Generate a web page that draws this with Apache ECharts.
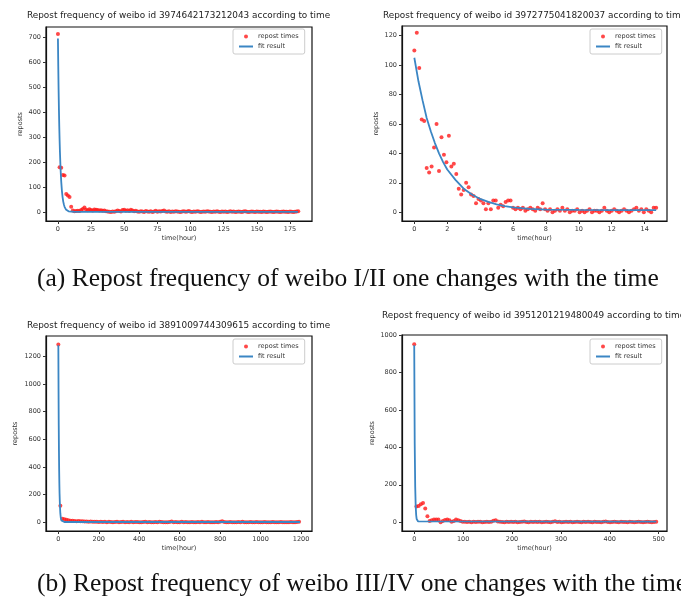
<!DOCTYPE html>
<html>
<head>
<meta charset="utf-8">
<script src="https://cdn.jsdelivr.net/npm/echarts@6/dist/echarts.min.js"></script>
<style>
  html,body{margin:0;padding:0;background:#fff;}
  #main{width:681px;height:598px;}
</style>
</head>
<body>
<div id="main"></div>
<script>
// sampling step (hours) of each weibo's repost counts
var step1 = 1.25, step2 = 0.15, step3 = 10, step4 = 4.5;

// repost counts, weibo 3974642173212043
var repost1 = [715,180,178,149,147,72,66,60,21,
  6,3,4,5,4,8,12,18,9,7,11,8,6,10,9,8,6,7,5,6,3,2,1,0,2,1,3,6,4,2,8,9,5,7,4,9,6,3,5,2,
  1,3,2,0,4,2,1,3,0,2, 5,1,3,2,4,6,2,1,3,0, 2,1,3,2,1,0,2,3,1,2, 4,1,0,2,1,3,2,0,1,2,
  1,3,2,1,0,2,1,3,1,0, 2,1,2,0,1,3,1,2,0,1, 2,1,0,2,3,1,0,1,2,1, 0,2,1,1,0,2,1,0,1,2,
  1,0,1,2,1,0,1,2,1,1, 0,2,1,0,1,2,3];
// repost counts, weibo 3972775041820037
var repost2 = [110,122,98,63,62,30,27,31,44,60,28,51,39,34,52,31,33,26,16,12,
  15,20,17,12,11,6,9,8,6,2,6,2,8,8,3,5,4,7,8,8,3,2,3,2,3,1,2,3,2,1,3,2,6,2,1,2,0,1,2,1,
  3,1,2,0,1,1,2,0,1,0,1,2,0,1,1,0,1,3,1,0,1,2,1,0,1,2,1,0,1,2,3,1,2,0,2,1,0,3,3];
// repost counts, weibo 3891009744309615
var repost3 = [1285,120,25,22,18,15,12,12,10,8,9,7,8,6,5,4,5,3,4,3,2,
  3,2,4,1,3,2,0,2,3,1, 2,4,1,2,0,3,1,2,2,1, 0,2,3,1,2,1,0,2,1,3, 2,1,0,1,2,5,1,2,0,1,
  3,1,2,0,1,2,1,0,2,1, 3,1,0,2,1,1,0,2,1,3, 8,2,1,0,2,1,1,0,2,1, 3,1,0,1,2,1,0,2,1,1,
  0,2,1,0,1,2,1,0,1,2, 1,0,1,1,2,0,1,2,3];
// repost counts, weibo 3951201219480049
var repost4 = [950,84,87,96,102,73,32,7,10,14,15,14,0,6,12,14,10,2,6,14,10,7,3,2,
  1,3,0,2,1,3,2,0,1,2, 1,3,8,10,4,2,1,0,2,1, 3,1,2,0,1,2,4,1,0,2, 1,3,1,2,0,1,2,1,0,2,
  5,1,2,0,1,3,1,2,0,1, 2,1,0,2,1,3,1,0,2,1, 1,0,2,4,1,0,1,2,1,0, 2,1,1,0,2,1,0,1,2,1,
  0,1,2,1,0,1,2];

// fitted curves
var fitTime1 = [0,0.25,0.5,0.75,1,1.25,1.5,2,2.5,3,3.5,4,4.5,5,6,7,8,9,10,12,15,20,181];
var fitVal1 = [697,585,490,412,345,290,243,171,121,85,60,42,30,21,10.5,5.5,3,2,1.5,1.1,1,1,1];
var fitTime2 = [0,0.25,0.5,0.75,1,1.25,1.5,1.75,2,2.5,3,3.5,4,4.5,5,5.5,6,7,8,10,12,14.7];
var fitVal2 = [105,89,76,64,55,47,40,34,29,22,16,12,9,7,5.3,4.1,3.3,2.3,1.8,1.5,1.4,1.4];
var fitTime3 = [0,1,2,3,4,5,6,8,10,12,15,20,30,1195];
var fitVal3 = [1280,950,700,520,380,280,210,115,62,34,14,5,2,2];
var fitTime4 = [0,1,2,3,4,5,6,8,495];
var fitVal4 = [945,420,190,85,38,17,8,4,3];

// tick labels
var xTicks1 = [0,25,50,75,100,125,150,175];
var yTicks1 = [0,100,200,300,400,500,600,700];
var xTicks2 = [0,2,4,6,8,10,12,14];
var yTicks2 = [0,20,40,60,80,100,120];
var xTicks3 = [0,200,400,600,800,1000,1200];
var yTicks3 = [0,200,400,600,800,1000,1200];
var xTicks4 = [0,100,200,300,400,500];
var yTicks4 = [0,200,400,600,800,1000];

var titles = [
  'Repost frequency of weibo id 3974642173212043 according to time',
  'Repost frequency of weibo id 3972775041820037 according to time',
  'Repost frequency of weibo id 3891009744309615 according to time',
  'Repost frequency of weibo id 3951201219480049 according to time'
];
var captions = [
  '(a) Repost frequency of weibo I/II one changes with the time',
  '(b) Repost frequency of weibo III/IV one changes with the time'
];

function pairs(values, step)
{
  var out = [];
  for (var i = 0; i < values.length; i++) out.push([i * step, values[i]]);
  return out;
}
function zip(xs, ys)
{
  var out = [];
  for (var i = 0; i < xs.length; i++) out.push([xs[i], ys[i]]);
  return out;
}

var tickColor = '#333';
function xAxis(idx, min, max, ticks)
{
  return {
    type: 'value', gridIndex: idx, min: min, max: max,
    axisLine: {show: true, onZero: false, lineStyle: {color: '#111', width: 1.2}},
    splitLine: {show: false},
    axisTick: {show: true, inside: false, length: 3, customValues: ticks, lineStyle: {color: tickColor}},
    axisLabel: {customValues: ticks, fontSize: 6.5, color: tickColor, margin: 5, fontFamily: 'DejaVu Sans',
      formatter: function(v){ return String(v); }},
    name: 'time(hour)', nameLocation: 'middle', nameGap: 14,
    nameTextStyle: {fontSize: 6.5, color: tickColor, fontFamily: 'DejaVu Sans'}
  };
}
function yAxis(idx, min, max, ticks, gap)
{
  return {
    type: 'value', gridIndex: idx, min: min, max: max,
    axisLine: {show: true, onZero: false, lineStyle: {color: '#111', width: 1.2}},
    splitLine: {show: false},
    axisTick: {show: true, inside: false, length: 3, customValues: ticks, lineStyle: {color: tickColor}},
    axisLabel: {customValues: ticks, fontSize: 6.5, color: tickColor, margin: 5, fontFamily: 'DejaVu Sans',
      formatter: function(v){ return String(v); }},
    name: 'reposts', nameLocation: 'middle', nameGap: gap, nameRotate: 90,
    nameTextStyle: {fontSize: 6.5, color: tickColor, fontFamily: 'DejaVu Sans'}
  };
}
function grid(left, top, width, height)
{
  return {left: left, top: top, width: width, height: height, show: true,
    borderColor: '#111', borderWidth: 1.2, backgroundColor: '#fff', outerBoundsMode: 'none'};
}
function legend(left, top)
{
  return {
    left: left, top: top, orient: 'vertical', padding: [4, 6, 4, 5], itemGap: 3,
    itemWidth: 14, itemHeight: 4, borderColor: '#ccc', borderWidth: 1, borderRadius: 2,
    backgroundColor: '#fff',
    textStyle: {fontSize: 6.5, color: '#333', fontFamily: 'DejaVu Sans'},
    data: [
      'repost times',
      {name: 'fit result', itemStyle: {color: 'rgba(0,0,0,0)', borderColor: 'rgba(0,0,0,0)', borderWidth: 0}}
    ]
  };
}
function panelTitle(text, left, top)
{
  return {text: text, left: left, top: top, padding: 0,
    textStyle: {fontSize: 8.9, fontWeight: 'normal', color: '#222', fontFamily: 'DejaVu Sans'}};
}
function captionTitle(text, top)
{
  return {text: text, left: 37, top: top, padding: 0,
    textStyle: {fontSize: 25.5, fontWeight: 'normal', color: '#111', fontFamily: 'Liberation Serif'}};
}

var dotColor = '#ff1a1a';
var lineColor = '#3b86c4';
function dots(idx, data)
{
  return {name: 'repost times', type: 'scatter', xAxisIndex: idx, yAxisIndex: idx,
    data: data, symbol: 'circle', symbolSize: 4, itemStyle: {color: dotColor}, silent: true};
}
function fit(idx, data)
{
  return {name: 'fit result', type: 'line', xAxisIndex: idx, yAxisIndex: idx,
    data: data, symbol: 'none', smooth: false,
    lineStyle: {color: lineColor, width: 1.8}, itemStyle: {color: lineColor}, silent: true};
}

var chart = echarts.init(document.getElementById('main'), null, {renderer: 'canvas'});
chart.setOption({
  backgroundColor: '#fff',
  animation: false,
  title: [
    panelTitle(titles[0], 27, 11),
    panelTitle(titles[1], 383, 11),
    panelTitle(titles[2], 27, 321),
    panelTitle(titles[3], 382, 311),
    captionTitle(captions[0], 266),
    captionTitle(captions[1], 571)
  ],
  grid: [
    grid(46, 27, 266, 194),
    grid(402, 26, 265, 195),
    grid(46, 336, 266, 195),
    grid(402, 335, 265, 196)
  ],
  legend: [legend(233, 29), legend(590, 29), legend(233, 339), legend(590, 339)],
  xAxis: [
    xAxis(0, -9, 191.6, xTicks1),
    xAxis(1, -0.75, 15.36, xTicks2),
    xAxis(2, -61, 1254, xTicks3),
    xAxis(3, -25, 517, xTicks4)
  ],
  yAxis: [
    yAxis(0, -36, 743, yTicks1, 22),
    yAxis(1, -6, 126.6, yTicks2, 22),
    yAxis(2, -63, 1347, yTicks3, 27),
    yAxis(3, -47, 1000, yTicks4, 26)
  ],
  series: [
    dots(0, pairs(repost1, step1)), fit(0, zip(fitTime1, fitVal1)),
    dots(1, pairs(repost2, step2)), fit(1, zip(fitTime2, fitVal2)),
    dots(2, pairs(repost3, step3)), fit(2, zip(fitTime3, fitVal3)),
    dots(3, pairs(repost4, step4)), fit(3, zip(fitTime4, fitVal4))
  ]
});
</script>
</body>
</html>
